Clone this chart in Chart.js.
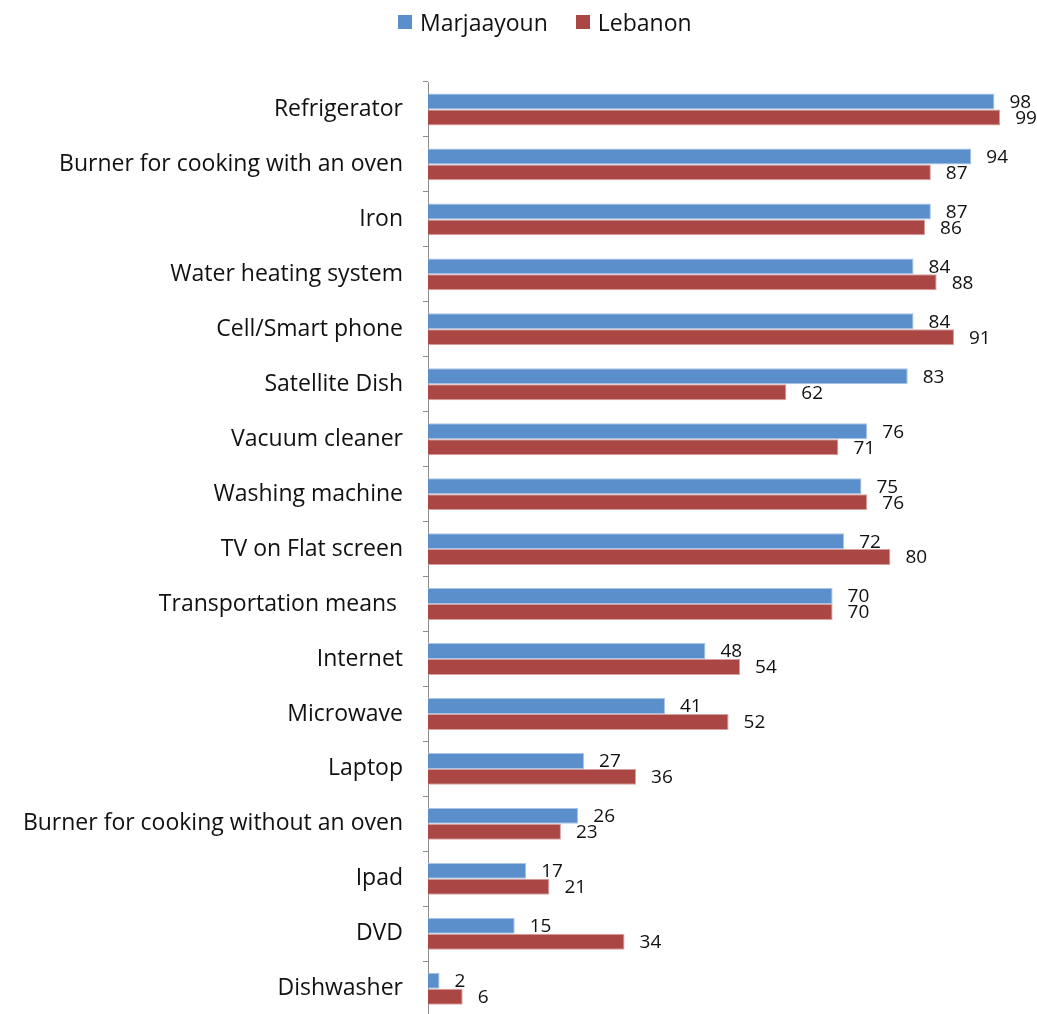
<!DOCTYPE html>
<html>
<head>
<meta charset="utf-8">
<script src="https://cdn.jsdelivr.net/npm/chart.js@4.4.1/dist/chart.umd.min.js"></script>
<style>
    html, body { margin: 0; padding: 0; background: #fff; overflow: hidden; }
    #wrap { position: relative; width: 1037px; height: 1014px; overflow: hidden; }
    #legend {
        position: absolute; top: 6px; left: 398px;
        font: 23px "Open Sans", sans-serif; color: #111;
        display: flex; align-items: center;
    }
    #legend span.box { display: inline-block; width: 14px; height: 14px; margin-right: 8px; }
    #legend span.item { display: inline-flex; align-items: center; margin-right: 28px; }
</style>
</head>
<body>
<div id="wrap">
    <canvas id="chart" width="1037" height="1050"></canvas>
    <div id="legend"></div>
</div>
<script>
const categories = [
    'Refrigerator', 'Burner for cooking with an oven', 'Iron', 'Water heating system',
    'Cell/Smart phone', 'Satellite Dish', 'Vacuum cleaner', 'Washing machine',
    'TV on Flat screen', 'Transportation means ', 'Internet', 'Microwave', 'Laptop',
    'Burner for cooking without an oven', 'Ipad', 'DVD', 'Dishwasher'
];
const marjaayoun = [98, 94, 87, 84, 84, 83, 76, 75, 72, 70, 48, 41, 27, 26, 17, 15, 2];
const lebanon = [99, 87, 86, 88, 91, 62, 71, 76, 80, 70, 54, 52, 36, 23, 21, 34, 6];
const seriesNames = ['Marjaayoun', 'Lebanon'];
const colors = ['#5B8FCB', '#AA4643'];
const edges = ['#A9C4E6', '#D8A09E'];

// HTML legend
const legend = document.getElementById('legend');
legend.innerHTML = seriesNames.map((n, i) =>
    `<span class="item"><span class="box" style="background:${colors[i]}"></span>${n}</span>`
).join('');

// value labels just past the end of each bar
const barLabels = {
    id: 'barLabels',
    afterDatasetsDraw(chart) {
        const ctx = chart.ctx;
        ctx.save();
        ctx.font = '19px "Open Sans", sans-serif';
        ctx.fillStyle = '#111';
        ctx.textAlign = 'left';
        ctx.textBaseline = 'middle';
        chart.data.datasets.forEach((ds, i) => {
            chart.getDatasetMeta(i).data.forEach((bar, j) => {
                ctx.fillText(String(ds.data[j]), bar.x + 15, bar.y + 1);
            });
        });
        ctx.restore();
    }
};

new Chart(document.getElementById('chart'), {
    type: 'bar',
    data: {
        labels: categories,
        datasets: [
            { label: seriesNames[0], data: marjaayoun, backgroundColor: colors[0], borderColor: edges[0], borderWidth: 1 },
            { label: seriesNames[1], data: lebanon, backgroundColor: colors[1], borderColor: edges[1], borderWidth: 1 }
        ]
    },
    options: {
        indexAxis: 'y',
        responsive: false,
        animation: false,
        layout: { padding: { top: 82, right: 31, bottom: 3, left: 0 } },
        datasets: { bar: { categoryPercentage: 0.58, barPercentage: 1 } },
        plugins: {
            legend: { display: false },
            tooltip: { enabled: false }
        },
        scales: {
            x: {
                display: false,
                min: 0,
                max: 100
            },
            y: {
                afterFit: s => { s.width = 428; },
                border: { display: true, color: '#8c8c8c', width: 1 },
                grid: { display: true, drawOnChartArea: false, drawTicks: true, tickLength: 5, color: '#8c8c8c', offset: true },
                ticks: { color: '#111', padding: 20, font: { family: 'Open Sans', size: 23 }, autoSkip: false }
            }
        }
    },
    plugins: [barLabels]
});
</script>
</body>
</html>
